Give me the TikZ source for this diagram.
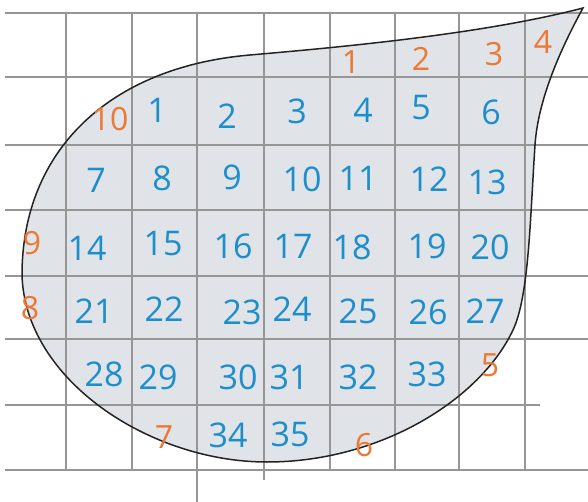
\documentclass[tikz,border=0pt]{standalone}
\usepackage{fontspec}
\setmainfont{Open Sans}
\definecolor{shapefill}{RGB}{224,227,231}
\definecolor{gridgray}{RGB}{150,150,150}
\definecolor{outline}{RGB}{35,35,35}
\definecolor{numblue}{RGB}{28,142,204}
\definecolor{numorange}{RGB}{236,120,52}
\tikzset{
  gridline/.style={draw=gridgray, line width=1.4pt},
  dropline/.style={draw=outline, line width=1.5pt},
  bnum/.style={text=numblue, font=\fontsize{34}{34}\selectfont, inner sep=0pt},
  onum/.style={text=numorange, font=\fontsize{32}{32}\selectfont, inner sep=0pt}
}
\begin{document}
\begin{tikzpicture}[x=1pt,y=-1pt]
\useasboundingbox (0,0) rectangle (588,502);
\coordinate (tip) at (583,8);
\coordinate (topmid) at (250,55);
\coordinate (left) at (22,275);
\coordinate (bottom) at (267,462);
\coordinate (rlow) at (513,330);
\coordinate (rhigh) at (535,145);
\def\dropshape{(tip) .. controls (480,35) and (330,48) .. (topmid)
  .. controls (110,67) and (22,150) .. (left)
  .. controls (25,380) and (150,462) .. (bottom)
  .. controls (380,462) and (480,400) .. (rlow)
  .. controls (529,296) and (530,220) .. (rhigh)
  .. controls (538,100) and (560,50) .. (tip) -- cycle}
% filled drop
\fill[shapefill] \dropshape;
% grid
\foreach \x in {66,132,330,395,459,525} \draw[gridline] (\x,13) -- (\x,470);
\draw[gridline] (197,13) -- (197,502);
\draw[gridline] (264,13) -- (264,480);
\foreach \y in {13,77,145,210,276,339,470} \draw[gridline] (5,\y) -- (588,\y);
\draw[gridline] (5,405) -- (540,405);
% outline
\draw[dropline] \dropshape;
% blue numbers
\node[bnum] (n1) at (157,110) {1};
\node[bnum] (n2) at (227,116) {2};
\node[bnum] (n3) at (297,111) {3};
\node[bnum] (n4) at (363,110) {4};
\node[bnum] (n5) at (421,108) {5};
\node[bnum] (n6) at (491,112) {6};
\node[bnum] (n7) at (96,180) {7};
\node[bnum] (n8) at (162,178) {8};
\node[bnum] (n9) at (232,177) {9};
\node[bnum] (n10) at (302,179) {10};
\node[bnum] (n11) at (358,178) {11};
\node[bnum] (n12) at (429,179) {12};
\node[bnum] (n13) at (487,182) {13};
\node[bnum] (n14) at (87,248) {14};
\node[bnum] (n15) at (163,244) {15};
\node[bnum] (n16) at (233,246) {16};
\node[bnum] (n17) at (293,246) {17};
\node[bnum] (n18) at (352,247) {18};
\node[bnum] (n19) at (427,246) {19};
\node[bnum] (n20) at (490,247) {20};
\node[bnum] (n21) at (94,311) {21};
\node[bnum] (n22) at (164,309) {22};
\node[bnum] (n23) at (242,312) {23};
\node[bnum] (n24) at (292,309) {24};
\node[bnum] (n25) at (358,311) {25};
\node[bnum] (n26) at (428,312) {26};
\node[bnum] (n27) at (485,311) {27};
\node[bnum] (n28) at (104,374) {28};
\node[bnum] (n29) at (158,377) {29};
\node[bnum] (n30) at (238,377) {30};
\node[bnum] (n31) at (289,377) {31};
\node[bnum] (n32) at (358,377) {32};
\node[bnum] (n33) at (427,374) {33};
\node[bnum] (n34) at (228,435) {34};
\node[bnum] (n35) at (290,434) {35};
% orange numbers
\node[onum] (o1) at (351,62) {1};
\node[onum] (o2) at (421,59) {2};
\node[onum] (o3) at (494,54) {3};
\node[onum] (o4) at (543,42) {4};
\node[onum] (o5) at (490,365) {5};
\node[onum] (o6) at (364,445) {6};
\node[onum] (o7) at (164,437) {7};
\node[onum] (o8) at (30,308) {8};
\node[onum] (o9) at (32,243) {9};
\node[onum] (o10) at (110,119) {10};
\end{tikzpicture}
\end{document}
